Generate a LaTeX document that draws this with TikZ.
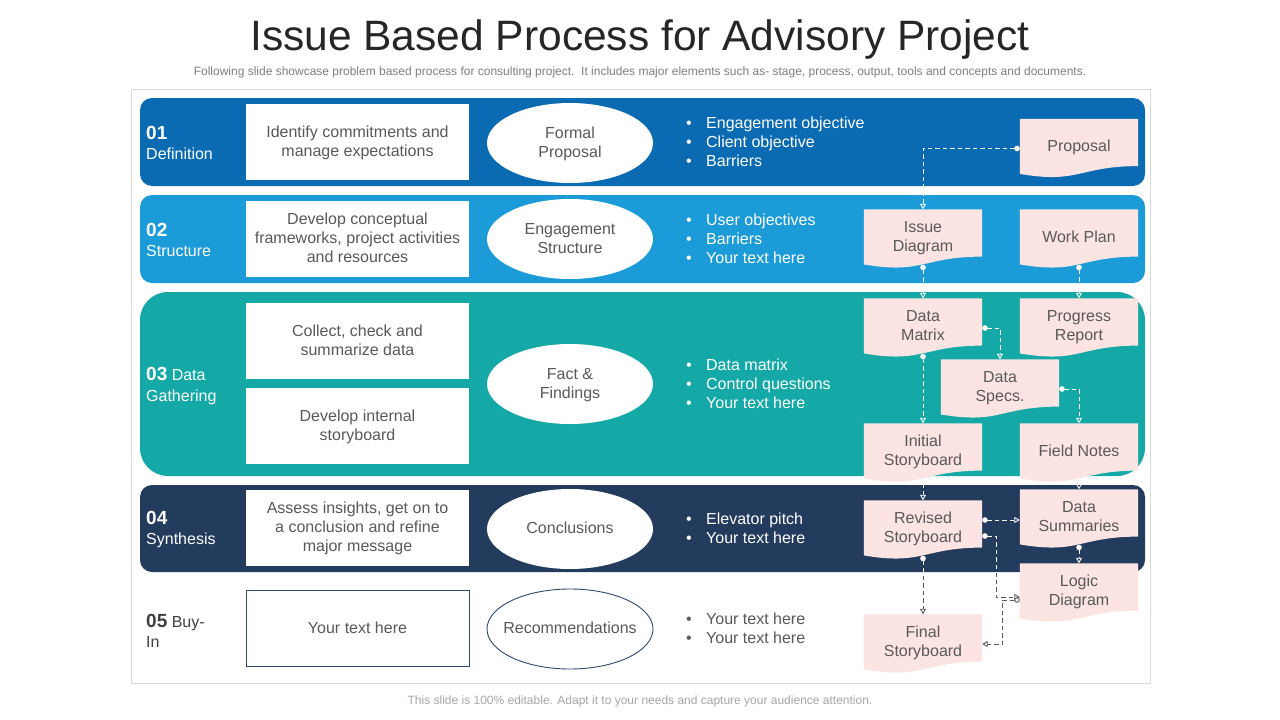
\documentclass[tikz,border=0pt]{standalone}
\usepackage{fontspec}
\setmainfont{Liberation Sans}
\usetikzlibrary{shapes.geometric,arrows.meta,calc}
\definecolor{bandA}{HTML}{0A6AB2}
\definecolor{bandB}{HTML}{1B9BD7}
\definecolor{bandC}{HTML}{14A8A6}
\definecolor{bandD}{HTML}{233B5D}
\definecolor{txt}{HTML}{595959}
\definecolor{titlec}{HTML}{262626}
\definecolor{subc}{HTML}{7F7F7F}
\definecolor{footc}{HTML}{A6A6A6}
\definecolor{docfill}{HTML}{FBE4E1}
\definecolor{framec}{HTML}{D9D9D9}
\definecolor{navyline}{HTML}{2F4A6E}
\definecolor{lab5}{HTML}{404040}
\newcommand{\bul}{\makebox[20pt][l]{\textbullet}}
\newcommand{\sut}{\rule[-4pt]{0pt}{17pt}}
\newcommand{\docnode}[4]{%
  \node[docbox] (#1) at (#2,#3) {};
  \fill[docfill] (#1.north west) -- (#1.north east) -- ($(#1.north east)+(0,47.3)$)
    .. controls ($(#1.north)+(0,47.3)$) and ($(#1.north)+(0,65.3)$) .. ($(#1.north west)+(0,55.1)$) -- cycle;
  \node[doctext] (#1t) at (#2,#3-1.5) {\sut#4\sut};}
\begin{document}
\begin{tikzpicture}[x=1pt,y=-1pt,
  every node/.style={font=\fontsize{16}{19}\selectfont, text=txt, inner sep=0pt},
  wbox/.style={fill=white, minimum width=223pt, minimum height=76pt, align=center},
  oval/.style={ellipse, fill=white, minimum width=166pt, minimum height=80pt, align=center},
  lab/.style={anchor=west, align=left, text=white, font=\fontsize{16}{20.5}\selectfont},
  blist/.style={anchor=west, align=left, text=white},
  docbox/.style={minimum width=118pt, minimum height=59pt},
  doctext/.style={align=center},
  conn/.style={line width=0.9pt, dash pattern=on 4.5pt off 3pt,
    {Circle[length=5.5pt,width=5.5pt,fill=white]}-{Triangle[open,length=5.5pt,width=6pt]}},
  wconn/.style={conn, draw=white},
  gconn/.style={conn, draw=txt},
]
\useasboundingbox (0,0) rectangle (1280,720);
\fill[white] (0,0) rectangle (1280,720);

% titles
\node[font=\fontsize{42.5}{50}\selectfont, text=titlec] (title) at (640,40) {Issue Based Process for Advisory Project};
\node[font=\fontsize{12}{14}\selectfont, text=subc] (sub) at (640,72) {Following slide showcase problem based process for consulting project.\ \ It includes major elements such as- stage, process, output, tools and concepts and documents.};
\node[font=\fontsize{12}{14}\selectfont, text=footc] (foot) at (640,701) {This slide is 100\% editable. Adapt it to your needs and capture your audience attention.};

% frame and bands
\draw[framec, line width=0.8pt] (131,89) rectangle (1150,683);
\fill[bandA, rounded corners=12pt] (140,98) rectangle (1145,186);
\fill[bandB, rounded corners=12pt] (140,195) rectangle (1145,283);
\fill[bandC, rounded corners=28pt] (140,292) rectangle (1145,476);
\fill[bandD, rounded corners=12pt] (140,485) rectangle (1145,572);

% stage labels
\node[lab] (l1) at (146,143) {{\fontsize{19}{21}\selectfont\bfseries 01}\\Definition};
\node[lab] (l2) at (146,240) {{\fontsize{19}{21}\selectfont\bfseries 02}\\Structure};
\node[lab] (l3) at (146,386) {{\fontsize{19}{21}\selectfont\bfseries 03} Data\\Gathering};
\node[lab] (l4) at (146,529.5) {{\fontsize{19}{21}\selectfont\bfseries 04}\\Synthesis};
\node[lab, text=lab5] (l5) at (146,631) {{\fontsize{19}{21}\selectfont\bfseries 05} Buy-\\In};

% process boxes
\node[wbox] (b1) at (357.5,142) {\sut Identify commitments and\\manage expectations\sut};
\node[wbox] (b2) at (357.5,239) {\sut Develop conceptual\\frameworks, project activities\\and resources\sut};
\node[wbox] (b3a) at (357.5,341) {\sut Collect, check and\\summarize data\sut};
\node[wbox] (b3b) at (357.5,426) {\sut Develop internal\\storyboard\sut};
\node[wbox] (b4) at (357.5,528) {\sut Assess insights, get on to\\a conclusion and refine\\major message\sut};
\node[wbox, draw=navyline, line width=0.9pt] (b5) at (357.5,628.5) {\sut Your text here\sut};

% outputs
\node[oval] (o1) at (570,143) {\sut Formal\\Proposal\sut};
\node[oval] (o2) at (570,239) {\sut Engagement\\Structure\sut};
\node[oval] (o3) at (570,384) {\sut Fact \&\\Findings\sut};
\node[oval] (o4) at (570,529) {\sut Conclusions\sut};
\node[oval, draw=navyline, line width=0.9pt] (o5) at (570,629) {\makebox[90pt]{\sut Recommendations\sut}};

% bullet lists
\node[blist] (t1) at (686,142) {\bul Engagement objective\\\bul Client objective\\\bul Barriers};
\node[blist] (t2) at (686,239) {\bul User objectives\\\bul Barriers\\\bul Your text here};
\node[blist] (t3) at (686,384) {\bul Data matrix\\\bul Control questions\\\bul Your text here};
\node[blist] (t4) at (686,528.5) {\bul Elevator pitch\\\bul Your text here};
\node[blist, text=txt] (t5) at (686,628.5) {\bul Your text here\\\bul Your text here};

% documents
\docnode{prop}{1079}{148.5}{Proposal}
\docnode{isd}{923}{239}{Issue\\Diagram}
\docnode{wp}{1079}{239}{Work Plan}
\docnode{dmx}{923}{328}{Data\\Matrix}
\docnode{pr}{1079}{328}{Progress\\Report}
\docnode{dsp}{1000}{389}{Data\\Specs.}
\docnode{ist}{923}{453}{Initial\\Storyboard}
\docnode{fn}{1079}{453}{Field Notes}
\docnode{rsb}{923}{530}{Revised\\Storyboard}
\docnode{dsum}{1079}{519}{Data\\Summaries}
\docnode{ldg}{1079}{593}{Logic\\Diagram}
\docnode{fsb}{923}{644}{Final\\Storyboard}

% connectors
\coordinate (r1) at ([yshift=10pt]rsb.east);
\coordinate (r2) at ([yshift=-6pt]rsb.east);
\coordinate (g1) at ([yshift=-4pt]ldg.west);
\coordinate (g2) at ([yshift=-7pt]ldg.west);
\draw[wconn] (prop.west) -| (isd.north);
\draw[wconn] ([yshift=4pt]isd.south) -- (dmx.north);
\draw[wconn] ([yshift=4pt]wp.south) -- (pr.north);
\draw[wconn] (dmx.east) -| (dsp.north);
\draw[wconn] ([yshift=4pt]dmx.south) -- (ist.north);
\draw[wconn] (dsp.east) -| (fn.north);
\draw[wconn] ([yshift=4pt]ist.south) -- (rsb.north);
\draw[wconn] ([yshift=4pt]fn.south) -- (dsum.north);
\draw[wconn] (r1) -- (r1 -| dsum.west);
\draw[wconn] ([yshift=4pt]dsum.south) -- (ldg.north);
\draw[gconn] (r2) -- ++(14,0) |- (g1);
\draw[gconn] ([yshift=4pt]rsb.south) -- (fsb.north);
\draw[gconn] (g2) -- ++(-17,0) |- (fsb.east);
\begin{scope}
  \clip (140,485) rectangle (1145,572);
  \draw[wconn] (r2) -- ++(14,0) |- (g1);
  \draw[wconn] ([yshift=4pt]rsb.south) -- (fsb.north);
\end{scope}
\end{tikzpicture}
\end{document}
